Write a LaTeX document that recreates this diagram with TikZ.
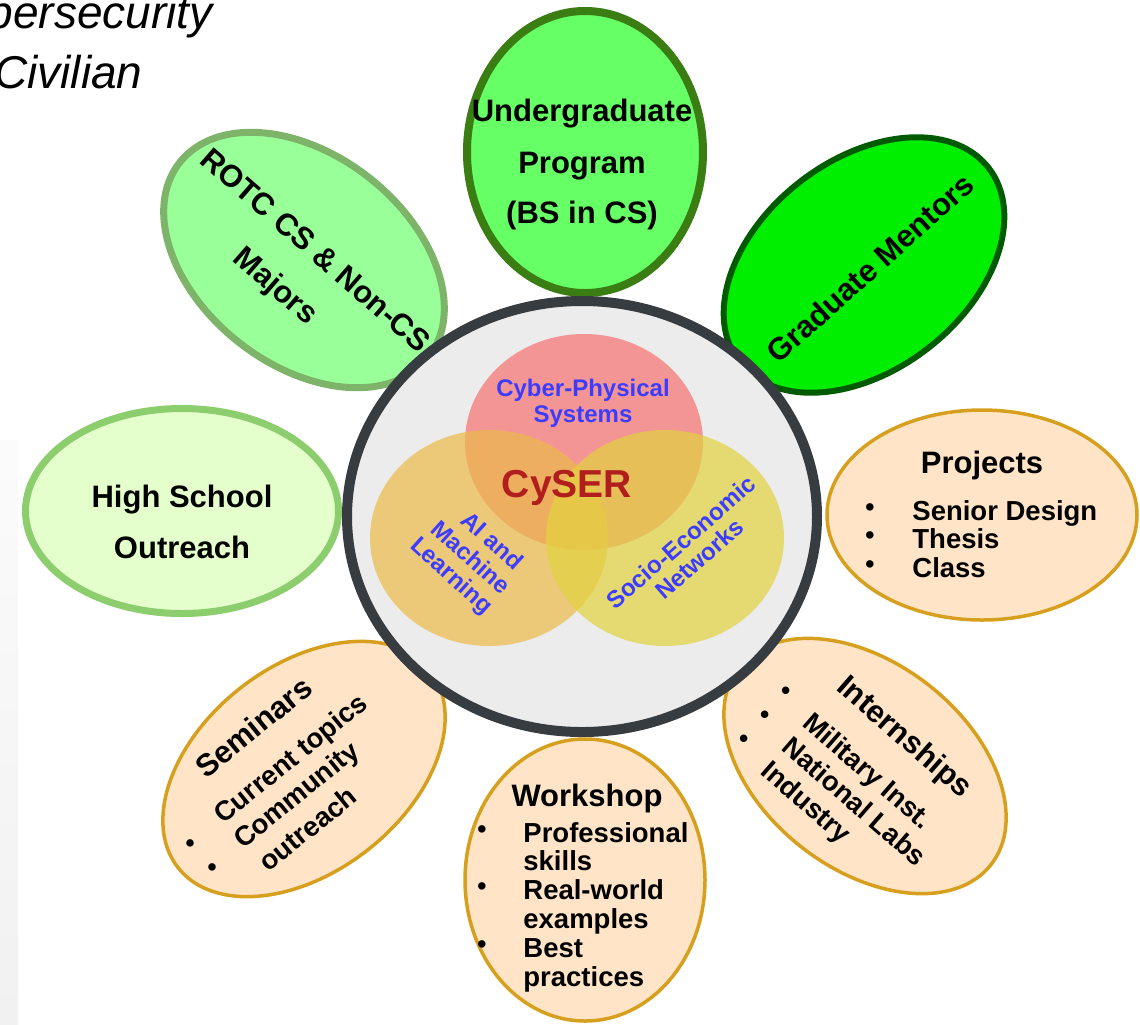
\documentclass[tikz,border=0pt]{standalone}
\usepackage{fontspec}
\setmainfont{Liberation Sans}
\usetikzlibrary{shapes.geometric}

\definecolor{ugfill}{HTML}{66FF66}
\definecolor{ugline}{HTML}{3A7D12}
\definecolor{gmfill}{HTML}{00EE00}
\definecolor{gmline}{HTML}{005A00}
\definecolor{rotcfill}{HTML}{99FF99}
\definecolor{rotcline}{HTML}{7DB469}
\definecolor{hsfill}{HTML}{E4FFCC}
\definecolor{hsline}{HTML}{8CCD6E}
\definecolor{peachfill}{HTML}{FFE4C8}
\definecolor{peachline}{HTML}{D6A01E}
\definecolor{hubfill}{HTML}{ECECEC}
\definecolor{hubline}{HTML}{373C41}
\definecolor{vred}{HTML}{F77171}
\definecolor{vorange}{HTML}{ECB949}
\definecolor{vyellow}{HTML}{E3D23F}
\definecolor{venntext}{HTML}{3C3CFF}
\definecolor{cysercol}{HTML}{B01E1E}

\begin{document}
\begin{tikzpicture}[x=0.5pt,y=0.5pt,
  petal/.style={ellipse, inner sep=0pt, outer sep=0pt},
  peach/.style={petal, fill=peachfill, draw=peachline, line width=1.75pt},
  hd/.style={font=\bfseries\fontsize{15.5}{18}\selectfont, inner sep=0pt},
  itm/.style={font=\bfseries\fontsize{13.75}{16}\selectfont, inner sep=0pt, anchor=base west},
  blt/.style={font=\fontsize{13.75}{16}\selectfont, inner sep=0pt},
  vt/.style={font=\bfseries\fontsize{12}{14}\selectfont, text=venntext, inner sep=0pt},
  corner/.style={anchor=base east, font=\itshape\fontsize{23}{27}\selectfont, inner sep=0pt},
  venn/.style={petal, minimum width=119pt, minimum height=108pt, fill opacity=0.7}]
\useasboundingbox (0,0) rectangle (1140,-1024);

% faint strip along the left edge
\shade[top color=gray!3, bottom color=gray!11] (0,-440) rectangle (18,-1024);

% heading fragment in the corner
\node[corner] (cap1) at (213,-28) {persecurity};
\node[corner] (cap2) at (143,-88) {Civilian};

% petals
\node[petal, fill=ugfill, draw=ugline, line width=4pt, minimum width=118pt, minimum height=141pt] (ug) at (585,-152) {};
\node[petal, fill=gmfill, draw=gmline, line width=3pt, minimum width=158pt, minimum height=105pt, rotate=38] (gm) at (864,-265) {};
\node[petal, fill=rotcfill, draw=rotcline, line width=3.5pt, minimum width=158pt, minimum height=105pt, rotate=-38] (rotc) at (304,-260) {};
\node[petal, fill=hsfill, draw=hsline, line width=3.5pt, minimum width=156.5pt, minimum height=102.5pt] (hs) at (182,-511) {};
\node[peach, minimum width=155pt, minimum height=105pt] (proj) at (982,-515) {};
\node[peach, minimum width=160pt, minimum height=103pt, rotate=-38] (intern) at (865,-766) {};
\node[peach, minimum width=160pt, minimum height=103pt, rotate=38] (sem) at (304,-769) {};
\node[peach, minimum width=120pt, minimum height=141pt] (work) at (585,-880) {};

% hub and Venn diagram
\node[petal, fill=hubfill, draw=hubline, line width=5pt, minimum width=235pt, minimum height=215.5pt] (hub) at (582,-516.5) {};
\node[venn, fill=vred] (cps) at (584,-442) {};
\node[venn, fill=vorange] (aiml) at (489,-538) {};
\node[venn, fill=vyellow] (sen) at (665,-538) {};

\node[vt, anchor=base] (cps1) at (583,-396) {Cyber-Physical};
\node[vt, anchor=base] (cps2) at (583,-422) {Systems};
\node[anchor=base, inner sep=0pt, font=\bfseries\fontsize{19.5}{22}\selectfont, text=cysercol] (cyser) at (567,-497) {CySER};
\begin{scope}[shift={(471,-557)}, rotate=-42, transform shape]
  \node[vt] (ai1) at (5,27) {AI and};
  \node[vt] (ai2) at (0,0) {Machine};
  \node[vt] (ai3) at (-2,-28) {Learning};
\end{scope}
\begin{scope}[shift={(681,-542)}, rotate=41, transform shape]
  \node[vt] (se1) at (0,0) {Socio-Economic};
  \node[vt] (se2) at (3,-25) {Networks};
\end{scope}

% petal labels
\node[hd, anchor=base] (ug1) at (582,-121) {Undergraduate};
\node[hd, anchor=base] (ug2) at (582,-173) {Program};
\node[hd, anchor=base] (ug3) at (582,-223) {(BS in CS)};

\node[hd, rotate=42] (gmtext) at (870,-268) {Graduate Mentors};

\begin{scope}[shift={(316,-250)}, rotate=-41, transform shape]
  \node[hd] (rotc1) at (0,0) {ROTC CS \& Non-CS};
  \node[hd] (rotc2) at (-7,-55) {Majors};
\end{scope}

\node[hd, anchor=base] (hs1) at (182,-507) {High School};
\node[hd, anchor=base] (hs2) at (182,-558) {Outreach};

\node[hd, anchor=base] (pj0) at (982,-473) {Projects};
\node[itm] (pj1) at (912,-520) {Senior Design};
\node[itm] (pj2) at (912,-548) {Thesis};
\node[itm] (pj3) at (912,-577) {Class};
\node[blt] (pjb1) at (870,-510) {\textbullet};
\node[blt] (pjb2) at (870,-538) {\textbullet};
\node[blt] (pjb3) at (870,-567) {\textbullet};

\node[hd, anchor=base] (ws0) at (587,-806) {Workshop};
\node[itm] (ws1) at (523,-842) {Professional};
\node[itm] (ws2) at (523,-870) {skills};
\node[itm] (ws3) at (523,-899) {Real-world};
\node[itm] (ws4) at (523,-928) {examples};
\node[itm] (ws5) at (523,-957) {Best};
\node[itm] (ws6) at (523,-986) {practices};
\node[blt] (wsb1) at (482,-832) {\textbullet};
\node[blt] (wsb2) at (482,-889) {\textbullet};
\node[blt] (wsb3) at (482,-947) {\textbullet};

\begin{scope}[shift={(801,-725)}, rotate=-41, transform shape]
  \node[hd, anchor=base west] (in0) at (2,49.5) {Internships};
  \node[itm] (in1) at (0,0) {Military Inst.};
  \node[itm] (in2) at (0,-32) {National Labs};
  \node[itm] (in3) at (0,-64) {Industry};
  \node[blt] (inb1) at (-34,13) {\textbullet};
  \node[blt] (inb2) at (-34,-19) {\textbullet};
  \node[blt] (inb3) at (-34,-51) {\textbullet};
\end{scope}

\begin{scope}[shift={(223,-825)}, rotate=39, transform shape]
  \node[hd, anchor=base west] (se0) at (15,46) {Seminars};
  \node[itm] (sm1) at (0,0) {Current topics};
  \node[itm] (sm2) at (0,-32) {Community};
  \node[itm] (sm3) at (5,-66) {outreach};
  \node[blt] (smb1) at (-37,3) {\textbullet};
  \node[blt] (smb2) at (-35,-29) {\textbullet};
\end{scope}
\end{tikzpicture}
\end{document}
